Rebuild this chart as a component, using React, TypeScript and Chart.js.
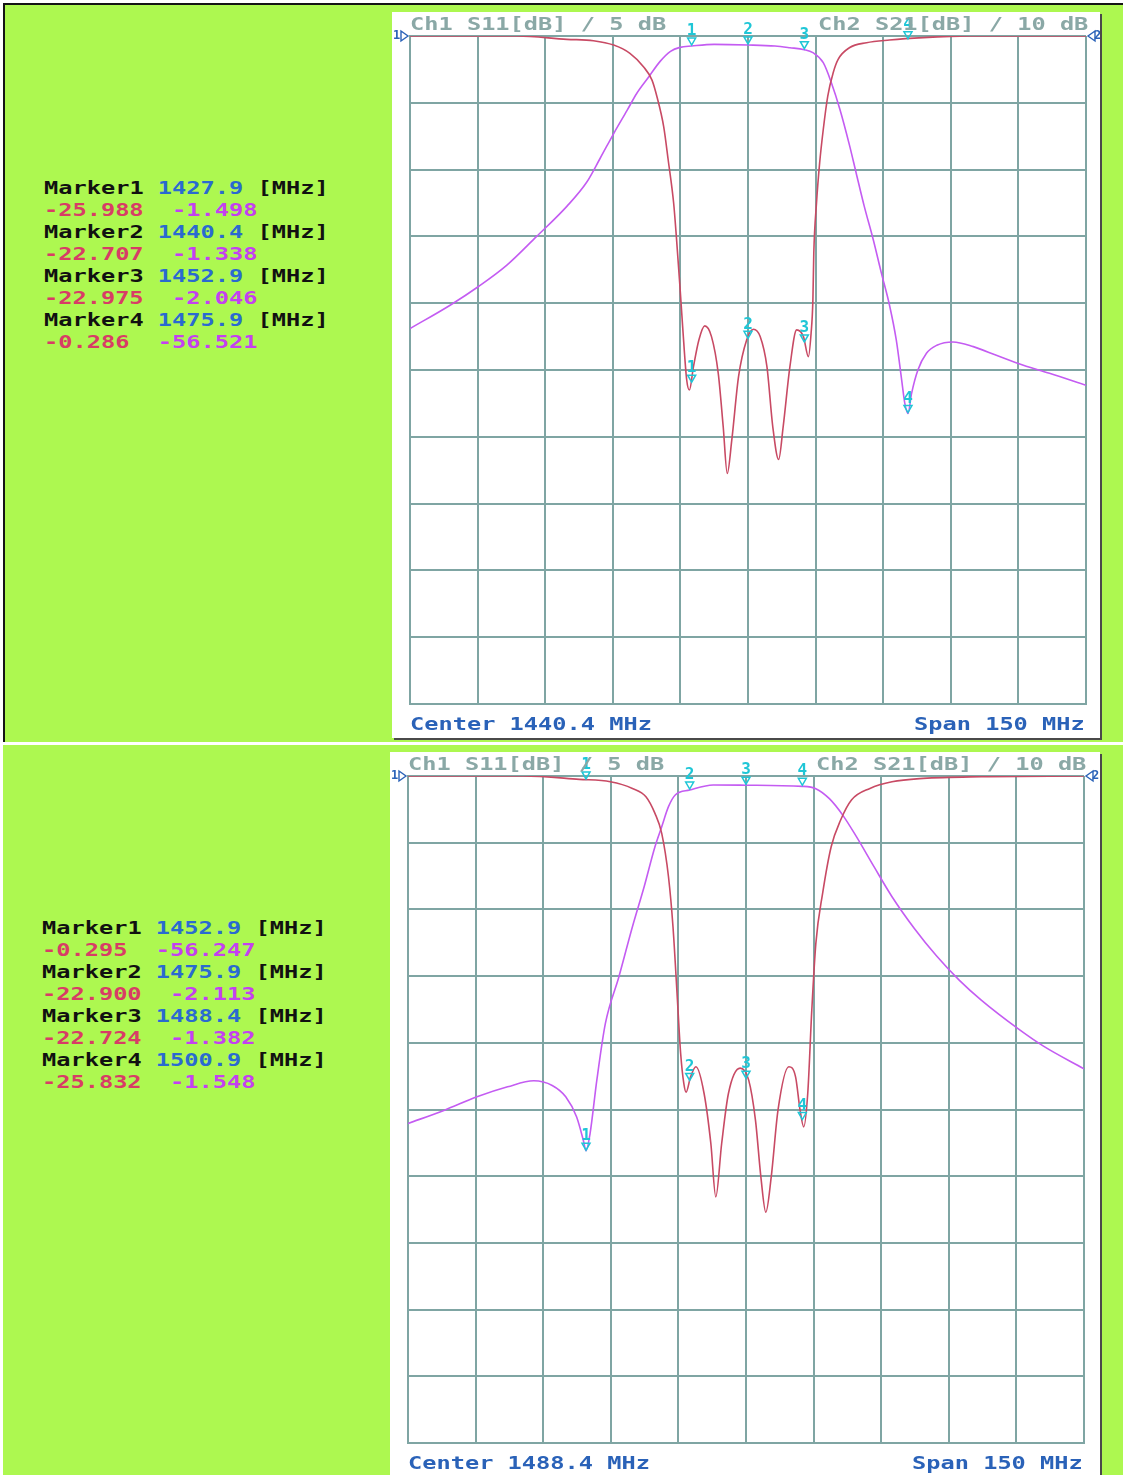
import React, { useEffect, useRef } from "react";
import { Chart, registerables } from "chart.js";
Chart.register(...registerables);

// ---------- data ----------
const spanMHz = 150;
const divisions = 10;
const s11PerDiv = 5; // dB/div
const s21PerDiv = 10; // dB/div

const topCenter = 1440.4;
const bottomCenter = 1488.4;

const topS11Freq = [1365.4, 1389.1, 1400.2, 1406.1, 1410.6, 1414.2, 1417.2, 1419.1, 1420.2, 1421.7, 1422.7, 1423.9, 1424.5, 1425.3, 1425.9, 1426.8, 1427.4, 1428.3, 1429.5, 1430.8, 1432.3, 1433.8, 1434.9, 1435.8, 1436.8, 1438.3, 1440.1, 1441.6, 1443.1, 1444.6, 1445.9, 1447.2, 1448.2, 1449.7, 1451.2, 1452.7, 1453.8, 1454.4, 1454.8, 1455.0, 1455.6, 1456.3, 1457.1, 1458.1, 1459.3, 1460.4, 1462.9, 1466.7, 1471.8, 1479.3, 1489.6, 1515.4];
const topS11Db = [0, 0, -0.25, -0.35, -0.68, -1.3, -2.3, -3.3, -4.55, -6.8, -9.3, -12.5, -15.0, -18.75, -21.75, -25.75, -26.5, -24.75, -22.75, -21.7, -22.5, -25.25, -29.25, -32.75, -30.25, -25.5, -22.75, -21.95, -22.5, -24.75, -29.25, -31.7, -29.25, -24.75, -22.0, -22.5, -24.0, -22.25, -19.75, -16.25, -12.5, -9.5, -7.0, -4.5, -2.75, -1.75, -0.88, -0.5, -0.3, -0.12, 0, 0];

const topS21Freq = [1365.4, 1374.3, 1380.6, 1386.9, 1393.5, 1400.2, 1404.6, 1407.6, 1410.6, 1413.6, 1415.7, 1418.4, 1420.9, 1423.2, 1425.3, 1427.9, 1432.9, 1440.4, 1446.4, 1449.7, 1452.9, 1454.8, 1457.1, 1458.9, 1460.8, 1462.9, 1464.4, 1466.2, 1468.2, 1470.0, 1471.8, 1473.3, 1474.5, 1475.2, 1475.9, 1476.7, 1478.1, 1480.0, 1482.3, 1485.9, 1490.4, 1495.5, 1501.5, 1507.3, 1515.4];
const topS21Db = [-43.8, -40.3, -37.5, -34.3, -30.0, -25.5, -21.9, -18.3, -14.6, -11.1, -8.6, -6.1, -3.8, -2.3, -1.7, -1.5, -1.25, -1.34, -1.5, -1.75, -2.05, -2.5, -4.0, -7.0, -11.0, -16.3, -20.5, -25.5, -30.5, -35.5, -40.3, -45.5, -51.5, -55.0, -56.5, -53.5, -50.0, -47.5, -46.3, -45.8, -46.5, -47.8, -49.3, -50.5, -52.3];

const bottomS11Freq = [1413.4, 1438.9, 1451.4, 1458.3, 1463.2, 1466.2, 1468.2, 1469.7, 1471.2, 1472.2, 1473.1, 1473.9, 1474.6, 1475.1, 1476.1, 1477.3, 1479.1, 1480.6, 1481.7, 1483.0, 1484.5, 1487.1, 1489.0, 1490.5, 1491.7, 1492.8, 1494.0, 1495.5, 1497.9, 1499.4, 1500.4, 1501.2, 1502.1, 1503.0, 1503.9, 1505.4, 1507.3, 1509.4, 1511.8, 1515.9, 1520.8, 1527.7, 1540.6, 1563.4];
const bottomS11Db = [0, 0, -0.25, -0.43, -0.93, -1.55, -2.8, -4.3, -7.55, -11.3, -16.3, -20.8, -23.05, -23.7, -22.55, -21.8, -23.8, -27.55, -31.55, -27.55, -23.8, -21.9, -22.8, -25.8, -30.05, -32.7, -30.05, -25.05, -21.8, -22.55, -25.05, -26.3, -23.8, -17.55, -12.55, -8.8, -5.3, -3.3, -1.8, -0.93, -0.43, -0.18, -0.05, 0];

const bottomS21Freq = [1413.4, 1421.5, 1428.7, 1435.5, 1441.3, 1445.4, 1448.4, 1450.8, 1452.3, 1452.9, 1453.8, 1455.3, 1457.2, 1460.2, 1463.2, 1465.8, 1468.2, 1469.7, 1471.2, 1472.7, 1475.9, 1481.1, 1488.4, 1500.9, 1503.9, 1506.9, 1509.9, 1512.9, 1516.8, 1520.8, 1525.8, 1530.7, 1535.7, 1540.6, 1548.6, 1554.4, 1563.4];
const bottomS21Db = [-52.1, -50.1, -48.1, -46.6, -45.7, -46.4, -48.1, -51.1, -54.6, -56.2, -53.6, -45.6, -37.1, -30.1, -22.6, -16.6, -10.6, -7.6, -4.6, -2.85, -2.11, -1.35, -1.38, -1.55, -1.9, -3.4, -5.9, -9.1, -13.6, -18.1, -22.9, -27.0, -30.6, -33.6, -37.8, -40.5, -43.9];

const topMarkerFreq = [1427.9, 1440.4, 1452.9, 1475.9];
const topMarkerS11 = ["-25.988", "-22.707", "-22.975", "-0.286"];
const topMarkerS21 = ["-1.498", "-1.338", "-2.046", "-56.521"];

const bottomMarkerFreq = [1452.9, 1475.9, 1488.4, 1500.9];
const bottomMarkerS11 = ["-0.295", "-22.900", "-22.724", "-25.832"];
const bottomMarkerS21 = ["-56.247", "-2.113", "-1.382", "-1.548"];

// ---------- styles ----------
const GREEN = "#adf850";
const GRID = "#7fa5a3";
const S11_COLOR = "#c84a64";
const S21_COLOR = "#c45cf2";
const MARK_COLOR = "#1fc6d6";
const BLUE = "#2a62b8";
const MONO = '"DejaVu Sans Mono", "Liberation Mono", monospace';
const WIDEN = 1.39;

type PanelProps = {
  box: { left: number; top: number; width: number; height: number };
  pad: { left: number; top: number; right: number; bottom: number };
  center: number;
  s11Freq: number[];
  s11Db: number[];
  s21Freq: number[];
  s21Db: number[];
  markerFreq: number[];
  markerS11: string[];
  markerS21: string[];
};

const wideText: React.CSSProperties = {
  position: "absolute",
  fontFamily: MONO,
  fontWeight: "bold",
  fontSize: 17,
  whiteSpace: "pre",
  lineHeight: "20px",
  transform: `scaleX(${WIDEN})`,
  transformOrigin: "left top",
};

function TracePanel(p: PanelProps) {
  const ref = useRef<HTMLCanvasElement | null>(null);
  useEffect(() => {
    if (!ref.current) return;
    const fMin = p.center - spanMHz / 2;
    const fMax = p.center + spanMHz / 2;
    const markerPlugin = {
      id: "vnaMarkers",
      afterDatasetsDraw(chart: any) {
        const { ctx, scales, chartArea } = chart;
        ctx.save();
        // reference-level indicators (1▷ left, ◁2 right)
        const yRef = scales.yS21.getPixelForValue(0);
        ctx.strokeStyle = BLUE;
        ctx.fillStyle = BLUE;
        ctx.lineWidth = 1.4;
        ctx.font = `bold 12px ${MONO}`;
        ctx.textBaseline = "middle";
        ctx.textAlign = "left";
        ctx.fillText("1", chartArea.left - 17, yRef);
        ctx.beginPath();
        ctx.moveTo(chartArea.left - 9, yRef - 5);
        ctx.lineTo(chartArea.left - 2, yRef);
        ctx.lineTo(chartArea.left - 9, yRef + 5);
        ctx.closePath();
        ctx.stroke();
        ctx.beginPath();
        ctx.moveTo(chartArea.right + 9, yRef - 5);
        ctx.lineTo(chartArea.right + 2, yRef);
        ctx.lineTo(chartArea.right + 9, yRef + 5);
        ctx.closePath();
        ctx.stroke();
        ctx.fillText("2", chartArea.right + 8, yRef);

        // markers
        ctx.fillStyle = MARK_COLOR;
        ctx.strokeStyle = MARK_COLOR;
        ctx.lineWidth = 1.5;
        ctx.font = `bold 16px ${MONO}`;
        ctx.textAlign = "center";
        ctx.textBaseline = "bottom";
        p.markerFreq.forEach((f, i) => {
          const px = scales.x.getPixelForValue(f);
          const pts: [any, number][] = [
            [scales.yS11, parseFloat(p.markerS11[i])],
            [scales.yS21, parseFloat(p.markerS21[i])],
          ];
          pts.forEach(([sc, v]) => {
            const py = sc.getPixelForValue(v);
            ctx.beginPath();
            ctx.moveTo(px - 4, py - 8);
            ctx.lineTo(px + 4, py - 8);
            ctx.lineTo(px, py - 1);
            ctx.closePath();
            ctx.stroke();
            ctx.fillText(String(i + 1), px, py - 7);
          });
        });
        ctx.restore();
      },
    };
    const chart = new Chart(ref.current, {
      type: "line",
      data: {
        datasets: [
          {
            data: p.s11Freq.map((f, i) => ({ x: f, y: p.s11Db[i] })),
            yAxisID: "yS11",
            borderColor: S11_COLOR,
            borderWidth: 1.6,
            pointRadius: 0,
            cubicInterpolationMode: "monotone",
          },
          {
            data: p.s21Freq.map((f, i) => ({ x: f, y: p.s21Db[i] })),
            yAxisID: "yS21",
            borderColor: S21_COLOR,
            borderWidth: 1.6,
            pointRadius: 0,
            cubicInterpolationMode: "monotone",
          },
        ],
      },
      options: {
        animation: false,
        responsive: false,
        maintainAspectRatio: false,
        layout: { padding: p.pad },
        plugins: { legend: { display: false }, tooltip: { enabled: false } },
        scales: {
          x: {
            type: "linear",
            min: fMin,
            max: fMax,
            afterBuildTicks: (s: any) => {
              s.ticks = Array.from({ length: divisions + 1 }, (_, i) => ({ value: fMin + (i * spanMHz) / divisions }));
            },
            ticks: { display: false },
            grid: { color: GRID, lineWidth: 2, drawTicks: false },
            border: { display: true, color: GRID, width: 2 },
          },
          yS21: {
            type: "linear",
            position: "left",
            min: -s21PerDiv * divisions,
            max: 0,
            ticks: { display: false, stepSize: s21PerDiv },
            grid: { color: GRID, lineWidth: 2, drawTicks: false },
            border: { display: true, color: GRID, width: 2 },
          },
          yS11: {
            type: "linear",
            position: "right",
            min: -s11PerDiv * divisions,
            max: 0,
            display: false,
          },
        },
      } as any,
      plugins: [markerPlugin],
    });
    return () => chart.destroy();
  }, []);

  const { box, pad } = p;
  const gridLeft = pad.left;
  const gridRight = box.width - pad.right;
  return (
    <div
      style={{
        position: "absolute",
        left: box.left,
        top: box.top,
        width: box.width,
        height: box.height,
        background: "#ffffff",
        boxShadow: "2px 2px 0 #4a4a4a",
      }}
    >
      <canvas ref={ref} width={box.width} height={box.height} style={{ position: "absolute", left: 0, top: 0 }} />
      <div style={{ ...wideText, left: gridLeft, top: pad.top - 22, color: "#8aa8a6" }}>Ch1 S11[dB] / {s11PerDiv} dB</div>
      <div style={{ ...wideText, left: gridRight - 268, top: pad.top - 22, color: "#8aa8a6" }}>Ch2 S21[dB] / {s21PerDiv} dB</div>
      <div style={{ ...wideText, left: gridLeft, top: box.height - pad.bottom + 10, color: BLUE }}>Center {p.center.toFixed(1)} MHz</div>
      <div style={{ ...wideText, left: gridRight - 172, top: box.height - pad.bottom + 10, color: BLUE }}>Span {spanMHz} MHz</div>
    </div>
  );
}

function MarkerReadout(props: { left: number; top: number; freqs: number[]; s11: string[]; s21: string[] }) {
  const base: React.CSSProperties = {
    ...wideText,
    left: props.left,
    top: props.top,
    lineHeight: "22px",
  };
  return (
    <div style={base}>
      {props.freqs.map((f, i) => (
        <React.Fragment key={i}>
          <div>
            <span style={{ color: "#111" }}>Marker{i + 1} </span>
            <span style={{ color: "#2a6ad0" }}>{f.toFixed(1)}</span>
            <span style={{ color: "#111" }}> [MHz]</span>
          </div>
          <div>
            <span style={{ color: "#d83c66" }}>{props.s11[i] + "  "}</span>
            <span style={{ color: "#c440f0" }}>{props.s21[i]}</span>
          </div>
        </React.Fragment>
      ))}
    </div>
  );
}

export default function App() {
  return (
    <div style={{ position: "absolute", left: 0, top: 0, width: 1123, height: 1475, background: "#ffffff", overflow: "hidden" }}>
      <div
        style={{
          position: "absolute",
          left: 3,
          top: 3,
          width: 1120,
          height: 739,
          background: GREEN,
          borderTop: "2px solid #151515",
          borderLeft: "2px solid #151515",
          boxSizing: "border-box",
        }}
      />
      <div style={{ position: "absolute", left: 3, top: 745, width: 1120, height: 730, background: GREEN }} />

      <MarkerReadout left={44} top={177} freqs={topMarkerFreq} s11={topMarkerS11} s21={topMarkerS21} />
      <MarkerReadout left={42} top={917} freqs={bottomMarkerFreq} s11={bottomMarkerS11} s21={bottomMarkerS21} />

      <TracePanel
        box={{ left: 392, top: 12, width: 708, height: 726 }}
        pad={{ left: 18, top: 24, right: 14, bottom: 34 }}
        center={topCenter}
        s11Freq={topS11Freq}
        s11Db={topS11Db}
        s21Freq={topS21Freq}
        s21Db={topS21Db}
        markerFreq={topMarkerFreq}
        markerS11={topMarkerS11}
        markerS21={topMarkerS21}
      />
      <TracePanel
        box={{ left: 390, top: 752, width: 710, height: 723 }}
        pad={{ left: 18, top: 24, right: 16, bottom: 32 }}
        center={bottomCenter}
        s11Freq={bottomS11Freq}
        s11Db={bottomS11Db}
        s21Freq={bottomS21Freq}
        s21Db={bottomS21Db}
        markerFreq={bottomMarkerFreq}
        markerS11={bottomMarkerS11}
        markerS21={bottomMarkerS21}
      />
    </div>
  );
}
